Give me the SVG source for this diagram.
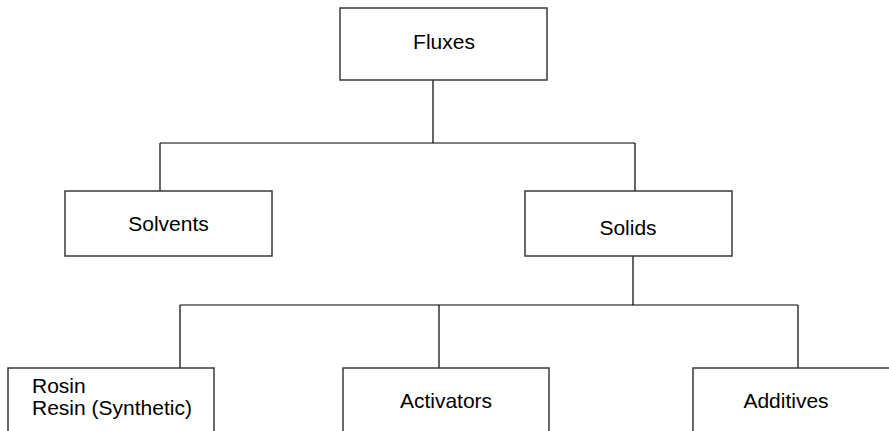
<svg xmlns="http://www.w3.org/2000/svg" width="889" height="431" viewBox="0 0 889 431">
<style>
.box{fill:#fff;stroke:#3a3a3a;stroke-width:1.5}
.t{font-family:"Liberation Sans",Arial,sans-serif;font-size:21px;fill:#000}
.c{text-anchor:middle}
.conn{fill:none;stroke:#000;stroke-width:1.2}
</style>
<rect width="889" height="431" fill="#fff"/>
<g id="connectors">
<path class="conn" d="M433,80 V143 M160,143 H635 M160,143 V191 M635,143 V191"/>
<path class="conn" d="M633,256 V305 M180,305 H798 M180,305 V368 M439,305 V368 M798,305 V368"/>
</g>
<g id="fluxes"><rect class="box" x="340" y="8" width="207" height="72"/><text class="t c" x="444" y="49">Fluxes</text></g>
<g id="solvents"><rect class="box" x="65" y="191" width="207" height="65"/><text class="t c" x="168.5" y="231">Solvents</text></g>
<g id="solids"><rect class="box" x="525" y="191" width="207" height="65"/><text class="t c" x="628" y="235">Solids</text></g>
<g id="rosin"><rect class="box" x="8" y="368" width="206" height="80"/><text class="t" x="32" y="393">Rosin</text><text class="t" x="32" y="415">Resin (Synthetic)</text></g>
<g id="activators"><rect class="box" x="343" y="368" width="206" height="80"/><text class="t c" x="446" y="408">Activators</text></g>
<g id="additives"><rect class="box" x="693" y="368" width="207" height="80"/><text class="t c" x="786" y="408">Additives</text></g>
</svg>
